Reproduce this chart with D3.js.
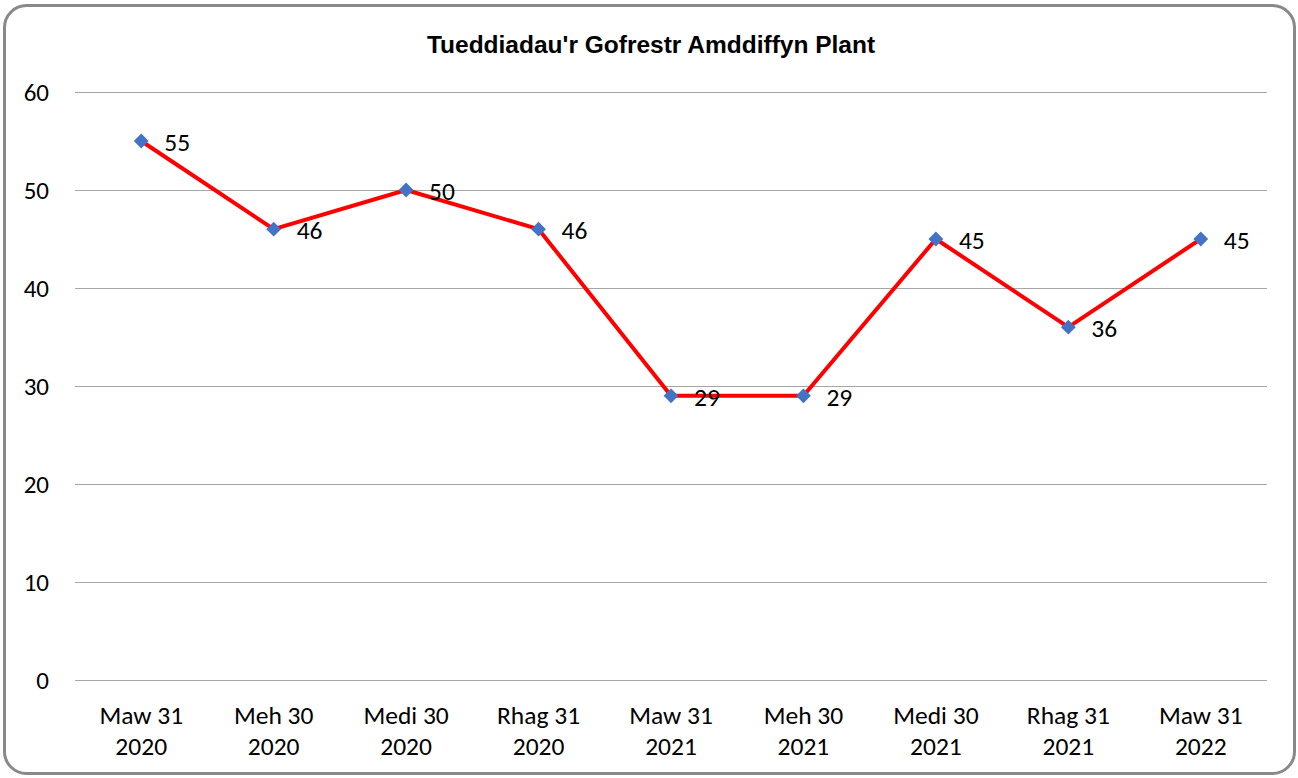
<!DOCTYPE html>
<html>
<head>
<meta charset="utf-8">
<script src="https://cdn.jsdelivr.net/npm/d3@7"></script>
<style>
  body { margin: 0; background: #fff; }
  text { font-family: Carlito, Calibri, Lato, "Open Sans", sans-serif; }
</style>
</head>
<body>
<script>
const categories = ["Maw 31|2020", "Meh 30|2020", "Medi 30|2020", "Rhag 31|2020",
  "Maw 31|2021", "Meh 30|2021", "Medi 30|2021", "Rhag 31|2021", "Maw 31|2022"];
const values = [55, 46, 50, 46, 29, 29, 45, 36, 45];
const yTicks = [0, 10, 20, 30, 40, 50, 60];
const title = "Tueddiadau'r Gofrestr Amddiffyn Plant";

const width = 1298;
const height = 778;
const svg = d3.select("body").append("svg").attr("width", width).attr("height", height);

// chart frame
svg.append("rect")
  .attr("x", 4.5).attr("y", 5.5)
  .attr("width", 1290).attr("height", 768)
  .attr("rx", 22).attr("ry", 22)
  .attr("fill", "#fff").attr("stroke", "#898989").attr("stroke-width", 3);

svg.append("text")
  .attr("x", 651).attr("y", 53)
  .attr("text-anchor", "middle")
  .style("font-family", "'Liberation Sans Narrow', 'Arial Narrow', sans-serif")
  .style("font-weight", "bold")
  .style("font-size", "24.5px")
  .text(title);

const plotLeft = 75, plotRight = 1267, plotTop = 92, plotBottom = 680;

const x = d3.scaleBand().domain(categories).range([plotLeft, plotRight]);
const y = d3.scaleLinear().domain([0, 60]).range([plotBottom, plotTop]);

// grid
svg.append("g").selectAll("line").data(yTicks).enter().append("line")
  .attr("x1", plotLeft).attr("x2", plotRight)
  .attr("y1", d => y(d) + 0.5).attr("y2", d => y(d) + 0.5)
  .attr("stroke", "#a6a6a6").attr("stroke-width", 1);

// y axis labels
svg.append("g").selectAll("text").data(yTicks).enter().append("text")
  .attr("x", 49).attr("y", d => y(d) + 9)
  .attr("text-anchor", "end")
  .style("font-size", "25px")
  .text(d => d);

// x axis labels
const xl = svg.append("g").selectAll("text").data(categories).enter().append("text")
  .attr("text-anchor", "middle")
  .style("font-size", "25.5px");
xl.each(function(d) {
  const parts = d.split("|");
  const cx = x(d) + x.bandwidth() / 2;
  d3.select(this).append("tspan").attr("x", cx).attr("y", 724).text(parts[0]);
  d3.select(this).append("tspan").attr("x", cx).attr("y", 755).text(parts[1]);
});

const cxf = (d, i) => x(categories[i]) + x.bandwidth() / 2;

const line = d3.line().x((d, i) => cxf(d, i)).y(d => y(d));
svg.append("path").datum(values)
  .attr("d", line)
  .attr("fill", "none").attr("stroke", "#ff0000").attr("stroke-width", 4)
  .attr("stroke-linejoin", "round");

svg.append("g").selectAll("path").data(values).enter().append("path")
  .attr("d", d3.symbol().type(d3.symbolDiamond2).size(140))
  .attr("transform", (d, i) => `translate(${cxf(d, i)},${y(d)})`)
  .attr("fill", "#4472c4");

svg.append("g").selectAll("text").data(values).enter().append("text")
  .attr("x", (d, i) => cxf(d, i) + 23)
  .attr("y", d => y(d) + 10)
  .style("font-size", "25.5px")
  .text(d => d);
</script>
</body>
</html>
